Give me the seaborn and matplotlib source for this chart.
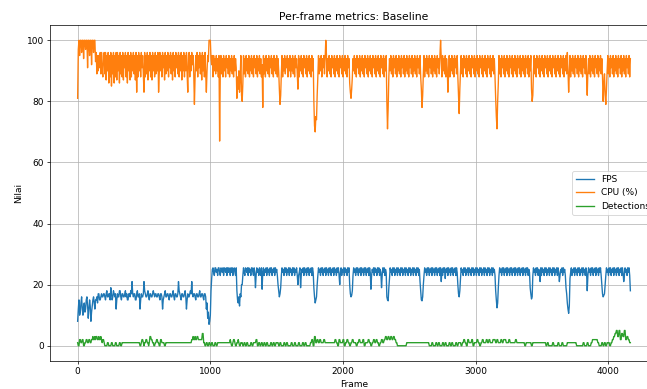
import numpy as np
import pandas as pd
import matplotlib
matplotlib.use("Agg")
import matplotlib.pyplot as plt
import seaborn as sns

# Keep every vertex of the dense per-frame traces
plt.rcParams["path.simplify"] = False

# Per-frame samples, one value every 5 frames
frame_step = 5

fps = [
    8, 12, 15, 10, 11, 14, 16, 12, 10, 13,
    14, 11, 12, 15, 16, 13, 9, 12, 15, 13,
    8, 11, 13, 15, 16, 14, 12, 15, 15, 16,
    14, 17, 17, 15, 15, 16, 17, 16, 16, 17,
    17, 16, 15, 17, 18, 16, 16, 17, 17, 15,
    19, 17, 15, 16, 18, 17, 16, 17, 12, 15,
    17, 16, 16, 18, 18, 16, 15, 17, 17, 16,
    16, 17, 18, 16, 17, 15, 15, 17, 17, 16,
    18, 17, 21, 17, 16, 17, 17, 15, 15, 17,
    18, 16, 16, 17, 12, 15, 17, 16, 16, 17,
    21, 18, 17, 16, 16, 17, 18, 16, 15, 17,
    17, 16, 16, 17, 18, 17, 16, 17, 17, 16,
    16, 17, 17, 16, 15, 17, 17, 16, 12, 15,
    16, 17, 18, 16, 16, 17, 17, 16, 15, 17,
    17, 16, 16, 17, 18, 16, 15, 17, 17, 16,
    16, 17, 21, 18, 17, 16, 15, 17, 17, 16,
    16, 17, 18, 16, 12, 15, 17, 16, 16, 17,
    18, 17, 21, 17, 16, 17, 17, 16, 15, 17,
    17, 16, 16, 17, 18, 16, 16, 17, 17, 16,
    15, 17, 17, 16, 12, 14, 9, 11, 7, 8,
    10, 18, 22, 25, 25.5, 24, 23, 25.5, 25.5, 24,
    25, 23, 25.5, 25.5, 24, 23, 25.5, 25, 24, 25.5,
    23, 25.5, 25, 24, 25.5, 23, 25.5, 24, 25.5, 25,
    23, 25.5, 24, 25.5, 23, 25, 25.5, 24, 23, 25.5,
    18, 15, 14, 16, 13, 17, 16, 20, 20, 23,
    25.5, 24, 23, 25.5, 25, 24, 25.5, 23, 25.5, 24,
    25, 23, 25.5, 25.5, 24, 23, 25.5, 24, 19, 23,
    25.5, 24, 25, 23, 25.5, 24, 23, 25.5, 18.5, 24,
    25.5, 23, 25, 24, 25.5, 23, 25.5, 24, 25, 23,
    25.5, 24, 25.5, 23, 25, 24, 25.5, 23, 25.5, 24,
    25, 23, 20, 18, 16, 17, 19, 23, 25.5, 24,
    25, 23, 25.5, 24, 25.5, 23, 25, 24, 25.5, 23,
    25.5, 24, 25, 23, 25.5, 24, 25.5, 23, 25, 24,
    25.5, 23, 20, 23, 24, 25.5, 19, 23, 25, 24,
    25.5, 23, 25.5, 24, 25, 23, 25.5, 24, 25.5, 23,
    25, 24, 25.5, 23, 25.5, 24, 19, 16, 14, 15,
    16, 20, 23, 25.5, 24, 25, 23, 25.5, 24, 25.5,
    23, 25, 24, 25.5, 23, 25.5, 24, 25, 23, 25.5,
    24, 25.5, 23, 25, 24, 25.5, 23, 25.5, 24, 25,
    23, 25.5, 24, 25.5, 23, 20, 24, 25.5, 23, 25,
    24, 25.5, 23, 25.5, 24, 25, 23, 25.5, 24, 25.5,
    20, 17, 16, 16.5, 18, 23, 25.5, 24, 25, 23,
    25.5, 24, 25.5, 23, 25, 24, 25.5, 23, 25.5, 24,
    25, 23, 25.5, 24, 25.5, 23, 25, 24, 25.5, 23,
    25.5, 24, 18.5, 23, 25, 24, 25.5, 23, 25.5, 24,
    25, 23, 25.5, 24, 25.5, 23, 25, 24, 19, 23,
    25.5, 24, 25.5, 23, 25, 24, 16, 15, 14.7, 19,
    22, 25.5, 24, 25, 23, 25.5, 24, 25.5, 23, 25,
    24, 25.5, 23, 25.5, 24, 25, 23, 25.5, 24, 25.5,
    23, 25, 24, 25.5, 23, 25.5, 24, 25, 23, 25.5,
    24, 25.5, 23, 25, 24, 25.5, 23, 25.5, 24, 25,
    23, 25.5, 24, 25.5, 23, 25, 21, 18, 15, 14.7,
    16, 20, 23, 25.5, 24, 25, 23, 25.5, 24, 25.5,
    23, 25, 24, 25.5, 23, 25.5, 24, 25, 23, 25.5,
    24, 25.5, 23, 25, 24, 25.5, 23, 25.5, 21, 25,
    23, 25.5, 24, 25.5, 22, 25, 24, 25.5, 23, 25.5,
    24, 25, 23, 25.5, 24, 25.5, 23, 25, 24, 25.5,
    23, 25.5, 24, 20, 17, 16, 18, 22, 25.5, 24,
    25, 23, 25.5, 24, 25.5, 23, 25, 24, 25.5, 23,
    25.5, 24, 25, 23, 25.5, 24, 25.5, 23, 25, 24,
    25.5, 23, 25.5, 24, 25, 23, 25.5, 24, 25.5, 23,
    25, 24, 25.5, 23, 25.5, 24, 25, 23, 25.5, 24,
    25.5, 23, 25, 24, 25.5, 23, 25.5, 24, 25, 23,
    18, 15, 12.4, 14, 19, 23, 25.5, 24, 25, 23,
    25.5, 24, 25.5, 23, 25, 24, 25.5, 23, 25.5, 24,
    25, 23, 25.5, 24, 25.5, 23, 25, 24, 25.5, 23,
    25.5, 24, 25, 23, 25.5, 24, 25.5, 23, 25, 24,
    25.5, 23, 25.5, 24, 25, 23, 25.5, 24, 25.5, 23,
    25, 24, 19, 17, 15.3, 16, 23, 25.5, 24, 25,
    23, 25.5, 24, 25.5, 23, 25, 24, 21, 25.5, 23,
    25.5, 24, 25, 23, 25.5, 24, 25.5, 23, 25, 24,
    25.5, 23, 25.5, 24, 25, 23, 25.5, 24, 25.5, 23,
    25, 24, 25.5, 23, 25.5, 24, 21, 23, 25, 24,
    25.5, 23, 25.5, 24, 25, 23, 19, 17, 14, 12,
    10.6, 13, 22, 24, 25.5, 23, 25, 24, 25.5, 23,
    25.5, 24, 25, 23, 25.5, 24, 25.5, 23, 25, 24,
    25.5, 23, 25.5, 24, 25, 23, 25.5, 24, 18, 23,
    25.5, 24, 25, 23, 25.5, 24, 25.5, 23, 25, 24,
    25.5, 23, 25.5, 24, 25, 23, 25.5, 24, 25.5, 23,
    20, 17, 16, 16.5, 17, 20, 23, 25.5, 24, 25,
    23, 25.5, 24, 25.5, 23, 25, 24, 25.5, 23, 25.5,
    24, 25, 23, 25.5, 24, 25.5, 23, 25, 24, 25.5,
    23, 25.5, 24, 21, 23, 25.5, 24, 25, 23, 25.5,
    24, 25.5, 23, 18,
]

cpu = [
    81, 97, 100, 95, 100, 100, 96, 100, 100, 94,
    100, 100, 97, 100, 100, 91, 100, 100, 95, 100,
    100, 92, 100, 100, 96, 100, 100, 93, 96, 89,
    95, 90, 95, 91, 96, 89, 96, 90, 88, 95,
    96, 89, 96, 87, 95, 90, 96, 86, 95, 88,
    96, 85, 95, 89, 96, 86, 95, 88, 96, 87,
    96, 90, 95, 86, 96, 89, 95, 88, 96, 87,
    95, 91, 96, 88, 95, 86, 96, 90, 95, 87,
    96, 88, 95, 90, 96, 89, 95, 87, 96, 83,
    95, 88, 96, 90, 95, 88, 96, 91, 95, 89,
    83, 96, 88, 95, 89, 96, 87, 95, 90, 96,
    88, 95, 87, 96, 90, 95, 88, 96, 89, 95,
    90, 96, 83, 89, 96, 90, 95, 88, 96, 91,
    95, 87, 96, 89, 95, 90, 96, 88, 95, 91,
    96, 89, 95, 87, 96, 90, 95, 88, 96, 91,
    95, 89, 96, 88, 95, 90, 96, 87, 95, 90,
    96, 88, 95, 90, 96, 89, 83, 95, 96, 88,
    95, 90, 96, 92, 95, 89, 79, 88, 95, 90,
    96, 88, 95, 91, 96, 89, 95, 87, 96, 90,
    95, 88, 96, 89, 83, 90, 95, 93, 100, 100,
    100, 94, 92, 95, 88, 95, 90, 94, 89, 95,
    90, 94, 88, 95, 67, 90, 95, 89, 94, 88,
    95, 90, 94, 88, 95, 91, 94, 89, 95, 88,
    94, 90, 95, 89, 94, 88, 95, 90, 94, 91,
    81, 88, 84, 90, 83, 88, 95, 82, 80, 86,
    95, 89, 94, 88, 95, 90, 94, 89, 95, 88,
    94, 90, 95, 89, 94, 88, 95, 91, 94, 89,
    95, 88, 94, 90, 95, 89, 94, 88, 92, 78,
    95, 89, 94, 88, 95, 90, 94, 89, 95, 88,
    94, 91, 95, 89, 94, 88, 95, 90, 94, 89,
    95, 88, 94, 90, 84, 79, 82, 89, 95, 88,
    94, 90, 95, 89, 94, 91, 95, 88, 94, 90,
    95, 88, 94, 90, 95, 89, 94, 88, 95, 91,
    94, 89, 84, 95, 88, 94, 90, 95, 89, 94,
    88, 95, 91, 94, 89, 95, 88, 94, 90, 95,
    89, 94, 88, 95, 90, 94, 80, 72, 70, 75,
    74, 82, 88, 95, 89, 94, 90, 95, 88, 94,
    91, 95, 89, 94, 100, 95, 88, 94, 90, 95,
    89, 94, 88, 95, 91, 94, 89, 95, 88, 94,
    90, 95, 89, 94, 88, 95, 91, 94, 89, 95,
    88, 94, 90, 95, 89, 94, 88, 95, 91, 94,
    86, 83, 81, 84, 88, 94, 90, 95, 89, 94,
    88, 95, 91, 94, 89, 95, 88, 94, 90, 95,
    89, 94, 88, 95, 91, 94, 89, 95, 88, 94,
    90, 95, 89, 94, 88, 95, 91, 94, 89, 95,
    88, 94, 90, 95, 89, 94, 88, 95, 91, 94,
    89, 95, 88, 94, 90, 95, 80, 71, 78, 88,
    94, 90, 95, 89, 94, 88, 95, 91, 94, 89,
    95, 88, 94, 90, 95, 89, 94, 88, 95, 91,
    94, 89, 95, 88, 94, 90, 95, 89, 94, 88,
    95, 91, 94, 89, 95, 88, 94, 90, 95, 89,
    94, 88, 95, 91, 94, 89, 95, 88, 84, 78,
    82, 89, 95, 88, 94, 90, 95, 89, 94, 88,
    95, 91, 94, 89, 95, 88, 94, 90, 95, 89,
    94, 88, 95, 91, 94, 89, 95, 100, 94, 88,
    95, 90, 94, 89, 95, 88, 94, 91, 83, 89,
    95, 88, 94, 90, 95, 89, 94, 88, 95, 91,
    94, 89, 95, 88, 82, 76, 84, 90, 95, 89,
    94, 88, 95, 91, 94, 89, 95, 88, 94, 90,
    95, 89, 94, 88, 95, 91, 94, 89, 95, 88,
    94, 90, 95, 89, 94, 88, 95, 91, 94, 89,
    95, 88, 94, 90, 95, 89, 94, 88, 95, 91,
    94, 89, 95, 88, 94, 90, 95, 89, 94, 88,
    81, 75, 71, 80, 86, 95, 89, 94, 88, 95,
    91, 94, 89, 95, 88, 94, 90, 95, 89, 94,
    88, 95, 91, 94, 89, 95, 88, 94, 90, 95,
    89, 94, 88, 95, 91, 94, 89, 95, 88, 94,
    90, 95, 89, 94, 88, 95, 91, 94, 89, 95,
    88, 94, 90, 95, 84, 80, 82, 90, 95, 89,
    94, 88, 95, 91, 94, 89, 95, 88, 94, 90,
    95, 89, 94, 88, 95, 91, 94, 89, 95, 88,
    94, 90, 95, 89, 94, 88, 95, 91, 94, 89,
    95, 88, 94, 90, 95, 89, 94, 88, 95, 91,
    94, 89, 95, 88, 94, 90, 95, 89, 96, 90,
    83, 89, 95, 88, 94, 90, 95, 89, 94, 88,
    95, 91, 94, 89, 95, 88, 94, 90, 95, 89,
    94, 88, 95, 91, 94, 89, 95, 88, 82, 90,
    94, 89, 95, 88, 94, 90, 95, 89, 94, 88,
    95, 91, 94, 89, 95, 88, 94, 90, 95, 89,
    94, 88, 80, 86, 89, 82, 79, 84, 90, 95,
    89, 94, 88, 95, 91, 94, 89, 95, 88, 94,
    90, 95, 89, 94, 88, 95, 91, 94, 89, 95,
    88, 94, 90, 95, 89, 94, 88, 95, 91, 94,
    89, 95, 88, 94,
]

detections = [
    1, 0, 0, 2, 2, 1, 1, 2, 2, 0,
    0, 1, 1, 2, 2, 1, 1, 2, 2, 1,
    1, 2, 2, 3, 2, 2, 3, 2, 3, 3,
    2, 2, 3, 2, 2, 3, 2, 1, 2, 2,
    1, 0, 0, 0, 0, 1, 1, 0, 0, 0,
    0, 1, 1, 0, 0, 0, 0, 1, 1, 0,
    0, 0, 0, 1, 1, 0, 0, 1, 1, 1,
    1, 1, 1, 1, 1, 1, 1, 1, 1, 1,
    1, 1, 1, 1, 1, 1, 1, 1, 1, 1,
    1, 1, 1, 1, 0, 0, 1, 2, 2, 1,
    0, 1, 1, 2, 2, 1, 1, 0, 1, 3,
    3, 2, 2, 1, 1, 0, 0, 1, 1, 2,
    2, 1, 1, 0, 0, 2, 2, 1, 1, 1,
    1, 0, 0, 1, 1, 1, 1, 1, 1, 1,
    1, 1, 1, 1, 1, 1, 1, 1, 1, 1,
    1, 1, 1, 1, 1, 1, 1, 1, 1, 1,
    1, 1, 1, 1, 1, 1, 1, 1, 1, 1,
    1, 1, 2, 2, 3, 2, 2, 3, 2, 2,
    3, 3, 2, 2, 2, 2, 2, 2, 4, 4,
    1, 1, 0, 0, 1, 1, 0, 0, 1, 1,
    0, 0, 1, 1, 0, 0, 0, 1, 1, 0,
    0, 1, 1, 1, 1, 1, 1, 1, 1, 1,
    1, 1, 1, 1, 1, 1, 1, 1, 1, 1,
    2, 1, 0, 0, 1, 2, 2, 1, 0, 0,
    1, 1, 2, 1, 0, 0, 1, 1, 1, 0,
    0, 1, 1, 0, 0, 1, 1, 0, 0, 0,
    0, 1, 1, 0, 0, 1, 1, 1, 1, 2,
    2, 0, 0, 1, 1, 0, 0, 1, 1, 0,
    0, 1, 1, 0, 0, 1, 1, 0, 0, 0,
    0, 1, 1, 0, 0, 1, 1, 0, 0, 1,
    1, 1, 1, 0, 0, 1, 1, 0, 0, 0,
    0, 1, 1, 0, 0, 1, 1, 0, 0, 0,
    0, 0, 1, 1, 0, 0, 0, 1, 1, 0,
    0, 0, 0, 1, 1, 0, 0, 0, 0, 1,
    1, 0, 0, 1, 1, 0, 0, 0, 0, 0,
    0, 1, 1, 2, 2, 0, 0, 3, 3, 1,
    1, 2, 2, 1, 1, 2, 2, 1, 1, 1,
    1, 2, 2, 1, 1, 1, 1, 1, 1, 1,
    1, 1, 1, 1, 1, 1, 1, 1, 2, 2,
    1, 1, 0, 0, 2, 2, 1, 1, 1, 1,
    2, 2, 0, 0, 1, 1, 2, 2, 1, 1,
    0, 0, 1, 1, 2, 2, 1, 1, 1, 1,
    0, 0, 1, 1, 2, 2, 1, 1, 1, 1,
    2, 2, 0, 0, 1, 1, 1, 1, 2, 2,
    1, 1, 0, 0, 1, 1, 2, 2, 1, 1,
    2, 2, 1, 1, 0, 0, 1, 1, 2, 2,
    1, 1, 2, 2, 3, 3, 2, 2, 3, 3,
    2, 2, 3, 3, 2, 2, 3, 3, 2, 2,
    1, 1, 0, 0, 0, 0, 0, 0, 0, 0,
    0, 0, 0, 0, 0, 0, 1, 1, 1, 1,
    1, 1, 1, 1, 1, 1, 1, 1, 1, 1,
    1, 1, 1, 1, 1, 1, 1, 1, 1, 1,
    1, 1, 1, 1, 1, 1, 1, 1, 1, 1,
    0, 0, 0, 0, 1, 1, 0, 0, 0, 0,
    1, 1, 0, 0, 1, 1, 0, 0, 0, 0,
    1, 1, 0, 0, 1, 1, 0, 0, 0, 0,
    1, 1, 0, 0, 1, 1, 0, 0, 0, 0,
    1, 1, 0, 0, 1, 1, 1, 1, 0, 0,
    1, 1, 2, 2, 1, 1, 0, 0, 2, 2,
    1, 1, 1, 1, 2, 2, 0, 0, 1, 1,
    1, 1, 2, 2, 1, 1, 0, 0, 1, 1,
    2, 2, 1, 1, 1, 1, 2, 2, 1, 1,
    2, 2, 1, 1, 1, 1, 2, 2, 2, 2,
    1, 1, 2, 2, 1, 1, 1, 1, 2, 2,
    1, 1, 2, 2, 2, 2, 1, 1, 1, 1,
    2, 2, 1, 1, 1, 1, 1, 1, 1, 1,
    2, 2, 1, 1, 1, 1, 1, 1, 1, 1,
    1, 1, 1, 1, 0, 0, 1, 1, 1, 1,
    1, 1, 1, 1, 0, 0, 1, 1, 1, 1,
    1, 1, 1, 1, 1, 1, 1, 1, 1, 1,
    1, 1, 1, 1, 1, 1, 0, 0, 1, 1,
    0, 0, 0, 0, 0, 0, 1, 1, 0, 0,
    0, 0, 0, 0, 1, 1, 0, 0, 0, 0,
    1, 1, 0, 0, 0, 0, 0, 0, 1, 1,
    1, 1, 1, 1, 1, 1, 1, 1, 1, 1,
    1, 1, 0, 0, 0, 0, 0, 0, 0, 0,
    0, 0, 1, 1, 0, 0, 0, 0, 1, 1,
    0, 0, 0, 0, 1, 1, 2, 2, 2, 2,
    2, 2, 2, 2, 1, 1, 0, 0, 0, 0,
    1, 1, 0, 0, 1, 1, 0, 0, 1, 1,
    1, 1, 0, 0, 1, 1, 2, 2, 3, 3,
    4, 4, 5, 5, 3, 3, 5, 5, 2, 2,
    4, 4, 3, 3, 5, 5, 2, 2, 3, 3,
    2, 2, 1, 1,
]

series = {"FPS": fps, "CPU (%)": cpu, "Detections": detections}

dpi = 64.7
fig = plt.figure(figsize=(647 / dpi, 389 / dpi), dpi=dpi)
ax = fig.add_axes([50 / 647, 28 / 389, 608 / 647, 336 / 389])

palette = sns.color_palette("tab10", 3)
for (label, values), color in zip(series.items(), palette):
    df = pd.DataFrame({"Frame": np.arange(len(values)) * frame_step, "Nilai": values})
    sns.lineplot(data=df, x="Frame", y="Nilai", ax=ax, color=color,
                 label=label, estimator=None, linewidth=1.5)

ax.set_title("Per-frame metrics: Baseline", fontsize=12)
ax.set_xlabel("Frame")
ax.set_ylabel("Nilai")
ax.grid(True)
ax.legend(loc="center right")

fig.savefig("out.png", dpi=dpi)
